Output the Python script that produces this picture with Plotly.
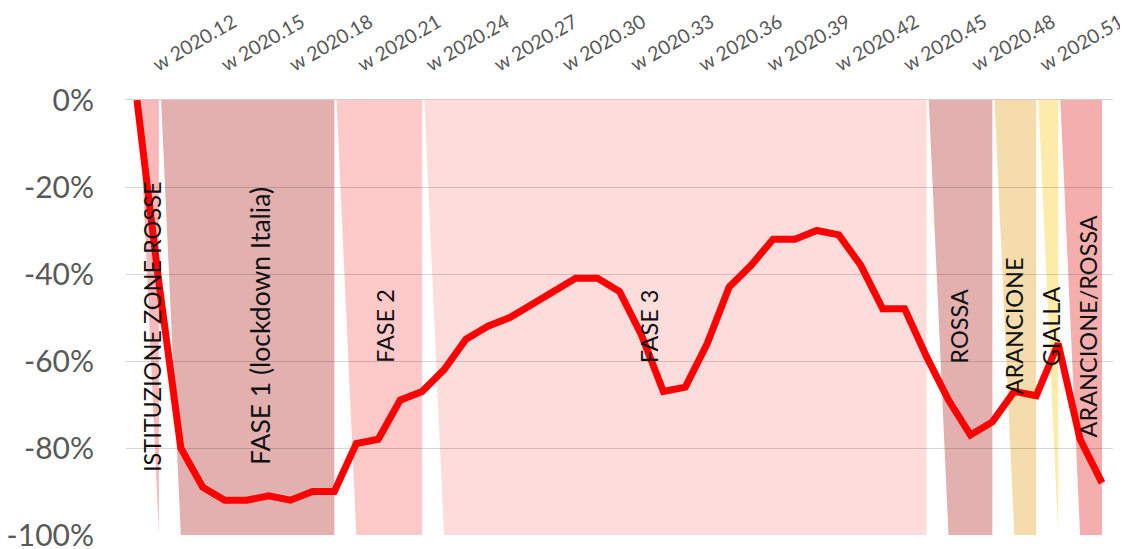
import plotly.graph_objects as go

# weekly variation vs baseline (%), weeks 2020.09 .. 2020.53
weeks = list(range(9, 54))
variation = [0, -42, -80, -89, -92, -92, -91, -92, -90, -90, -79, -78, -69, -67,
             -62, -55, -52, -50, -47, -44, -41, -41, -44, -54, -67, -66, -56, -43,
             -38, -32, -32, -30, -31, -38, -48, -48, -59, -69, -77, -74, -67, -68,
             -56, -78, -88]

# periods (first / last week) shown as shaded bands
band_names = ["ISTITUZIONE ZONE ROSSE", "FASE 1 (lockdown Italia)", "FASE 2", "FASE 3",
              "ROSSA", "ARANCIONE", "GIALLA", "ARANCIONE/ROSSA"]
band_start = [10, 11, 19, 23, 46, 49, 51, 52]
band_end = [10, 18, 22, 45, 48, 50, 51, 53]
band_colors = ["#F7B9B9", "#E3B0B0", "#FDC9C9", "#FDDCDC",
               "#E3B0B0", "#F5DCAC", "#FDEBAA", "#F4AEAE"]

label_weeks = list(range(12, 52, 3))
label_text = ["w 2020.%02d" % w for w in label_weeks]
y_ticks = [0, -20, -40, -60, -80, -100]
y_text = ["0%", "-20%", "-40%", "-60%", "-80%", "-100%"]

# where the band captions sit (week position) and their font size
caption_x = [9.68, 14.6, 20.3, 32.35, 46.5, 49.0, 50.68, 52.37]
caption_size = [23.5, 26.5, 23.5, 23.5, 23.5, 23.5, 23.5, 23.5]

fig = go.Figure()
fig.add_trace(go.Scatter(x=weeks, y=variation, mode="lines",
                         line=dict(color="#FF0000", width=7), hoverinfo="skip",
                         showlegend=False))

shapes = []
for s, e, c in zip(band_start, band_end, band_colors):
    path = "M %s,0 L %s,0 L %s,-100 L %s,-100 Z" % (s - 0.9, e, e, s)
    shapes.append(dict(type="path", path=path, xref="x", yref="y", layer="below",
                       fillcolor=c, line=dict(width=0)))

annotations = []
for name, cx, fs in zip(band_names, caption_x, caption_size):
    annotations.append(dict(x=cx, y=-52, xref="x", yref="y", text=name, textangle=-90,
                            showarrow=False, font=dict(family="Lato", size=fs, color="#111111")))

# page body has an 8px margin, so the figure is a bit smaller than the window
fig.update_layout(
    width=1120, height=541,
    margin=dict(l=118, r=15, t=92, b=14),
    paper_bgcolor="white", plot_bgcolor="white",
    shapes=shapes, annotations=annotations,
    font=dict(family="Lato", color="#595959"),
    xaxis=dict(range=[8.5, 53.5], showticklabels=False, showgrid=False, zeroline=False,
               automargin=False),
    xaxis2=dict(range=[10.81, 54.2], overlaying="x", side="top", tickmode="array",
                tickvals=label_weeks, ticktext=label_text, tickangle=-30,
                showgrid=False, zeroline=False, ticks="", ticklabelstandoff=18,
                ticklabeloverflow="allow", automargin=False,
                showline=True, linecolor="#D0D0D0", linewidth=1,
                tickfont=dict(size=19.5, color="#595959")),
    yaxis=dict(range=[-100, 0], tickmode="array", tickvals=y_ticks, ticktext=y_text,
               showgrid=True, gridcolor="rgba(0,0,0,0.16)", gridwidth=1, zeroline=False,
               ticklabelstandoff=31, ticklabeloverflow="allow", automargin=False,
               tickfont=dict(size=30, color="#595959")),
)
# invisible trace so the top axis is drawn
fig.add_trace(go.Scatter(x=[label_weeks[0]], y=[0], xaxis="x2", mode="markers",
                         marker=dict(opacity=0), hoverinfo="skip", showlegend=False))

fig.write_html("out.html")
